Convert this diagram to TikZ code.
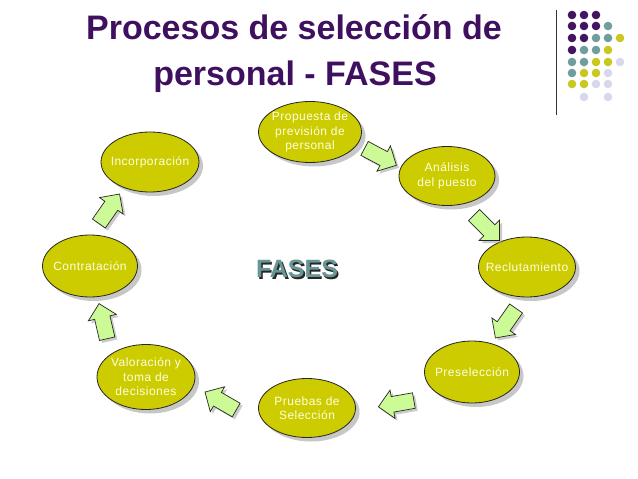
\documentclass[tikz,border=0pt]{standalone}
\usepackage{fontspec}
\setmainfont{Liberation Sans}
\usetikzlibrary{shapes.geometric,shapes.arrows,shadows}
\definecolor{ellfill}{RGB}{204,204,0}
\definecolor{elltext}{RGB}{255,255,225}
\definecolor{arrfill}{RGB}{204,250,150}
\definecolor{titlecol}{RGB}{64,16,96}
\definecolor{fasescol}{RGB}{104,150,150}
\definecolor{dpurple}{RGB}{66,22,96}
\definecolor{dteal}{RGB}{110,158,158}
\definecolor{dyellow}{RGB}{200,200,30}
\definecolor{dlav}{RGB}{216,216,236}
\tikzset{
  phase/.style={ellipse, draw=black!85, line width=0.8pt, fill=ellfill, inner sep=0pt,
    minimum width=97pt, minimum height=60pt,
    drop shadow={shadow xshift=4pt, shadow yshift=-4pt, fill=black!40, opacity=0.55}},
  phasetext/.style={text=elltext, align=center, inner sep=0pt,
    font=\fontsize{12}{14.5}\selectfont\addfontfeatures{LetterSpace=4}},
  flow/.style={single arrow, draw=black!85, fill=arrfill, line width=0.7pt,
    single arrow head extend=6.5pt, minimum height=36pt, inner sep=0pt,
    drop shadow={shadow xshift=2.5pt, shadow yshift=-2.5pt, fill=black!40, opacity=0.5}},
  titletext/.style={text=titlecol, anchor=base, inner sep=0pt,
    font=\fontsize{34}{40}\selectfont\bfseries}
}
\newcommand{\shaftbox}{\rule{0pt}{15pt}}
\begin{document}
\begin{tikzpicture}[x=1pt,y=-1pt]
\useasboundingbox[fill=white] (0,0) rectangle (638,479);

% title
\node[titletext] (title1) at (294,39) {Procesos de selección de};
\node[titletext] (title2) at (295,85) {personal - FASES};

% logo
\draw[line width=1pt, black!80] (556,10) -- (556,115);
\foreach \c/\x/\y in {dpurple/572/15, dpurple/584/15, dpurple/596/15,
  dpurple/572/26, dpurple/584/26, dpurple/596/26, dteal/608/26,
  dpurple/572/38, dpurple/584/38, dteal/596/38, dteal/608/38, dyellow/620/38,
  dpurple/572/50, dteal/584/50, dteal/596/50, dyellow/608/50,
  dteal/572/62, dteal/584/62, dyellow/596/62, dyellow/608/62, dlav/620/62,
  dteal/572/73, dyellow/584/73, dyellow/596/73, dlav/608/73,
  dyellow/572/84, dyellow/584/84, dlav/596/84, dlav/608/84,
  dlav/584/97, dlav/608/97}
  \fill[\c] (\x,\y) circle (4.3pt);

% phases
\node[phase, minimum width=103pt, minimum height=61pt] (p1) at (310,132) {};
\node[phasetext] (t1) at (p1) {Propuesta de\\previsión de\\personal};
\node[phase, minimum width=96pt, minimum height=59pt] (p2) at (447,176) {};
\node[phasetext] (t2) at (p2) {Análisis\\del puesto};
\node[phase] (p3) at (527,267) {};
\node[phasetext] (t3) at (p3) {Reclutamiento};
\node[phase, minimum width=95pt, minimum height=62pt] (p4) at (472,372) {};
\node[phasetext] (t4) at (p4) {Preselección};
\node[phase, minimum width=97pt, minimum height=59pt] (p5) at (307,408) {};
\node[phasetext] (t5) at (p5) {Pruebas de\\Selección};
\node[phase, minimum width=98pt, minimum height=65pt] (p6) at (146,377) {};
\node[phasetext] (t6) at (p6) {Valoración y\\toma de\\decisiones};
\node[phase, minimum width=95pt, minimum height=62pt] (p7) at (90,266) {};
\node[phasetext] (t7) at (p7) {Contratación};
\node[phase, minimum width=98pt, minimum height=60pt] (p8) at (150,162) {};
\node[phasetext] (t8) at (p8) {Incorporación};

% arrows
\node[flow, rotate=-28] (a1) at (377,155) {\shaftbox};
\node[flow, rotate=-45] (a2) at (484,225) {\shaftbox};
\node[flow, rotate=-125] (a3) at (508,320) {\shaftbox};
\node[flow, rotate=190] (a4) at (400,403) {\shaftbox};
\node[flow, rotate=150] (a5) at (224,403) {\shaftbox};
\node[flow, rotate=103] (a6) at (104,325) {\shaftbox};
\node[flow, rotate=55] (a7) at (107,212) {\shaftbox};

% center
\node[text=fasescol, inner sep=0pt, font=\fontsize{25}{28}\selectfont\bfseries] (fases) at (297,270)
  {\makebox[0pt][l]{\hspace{1.6pt}\raisebox{-1.6pt}{\color{black!85}FASES}}FASES};
\end{tikzpicture}
\end{document}
